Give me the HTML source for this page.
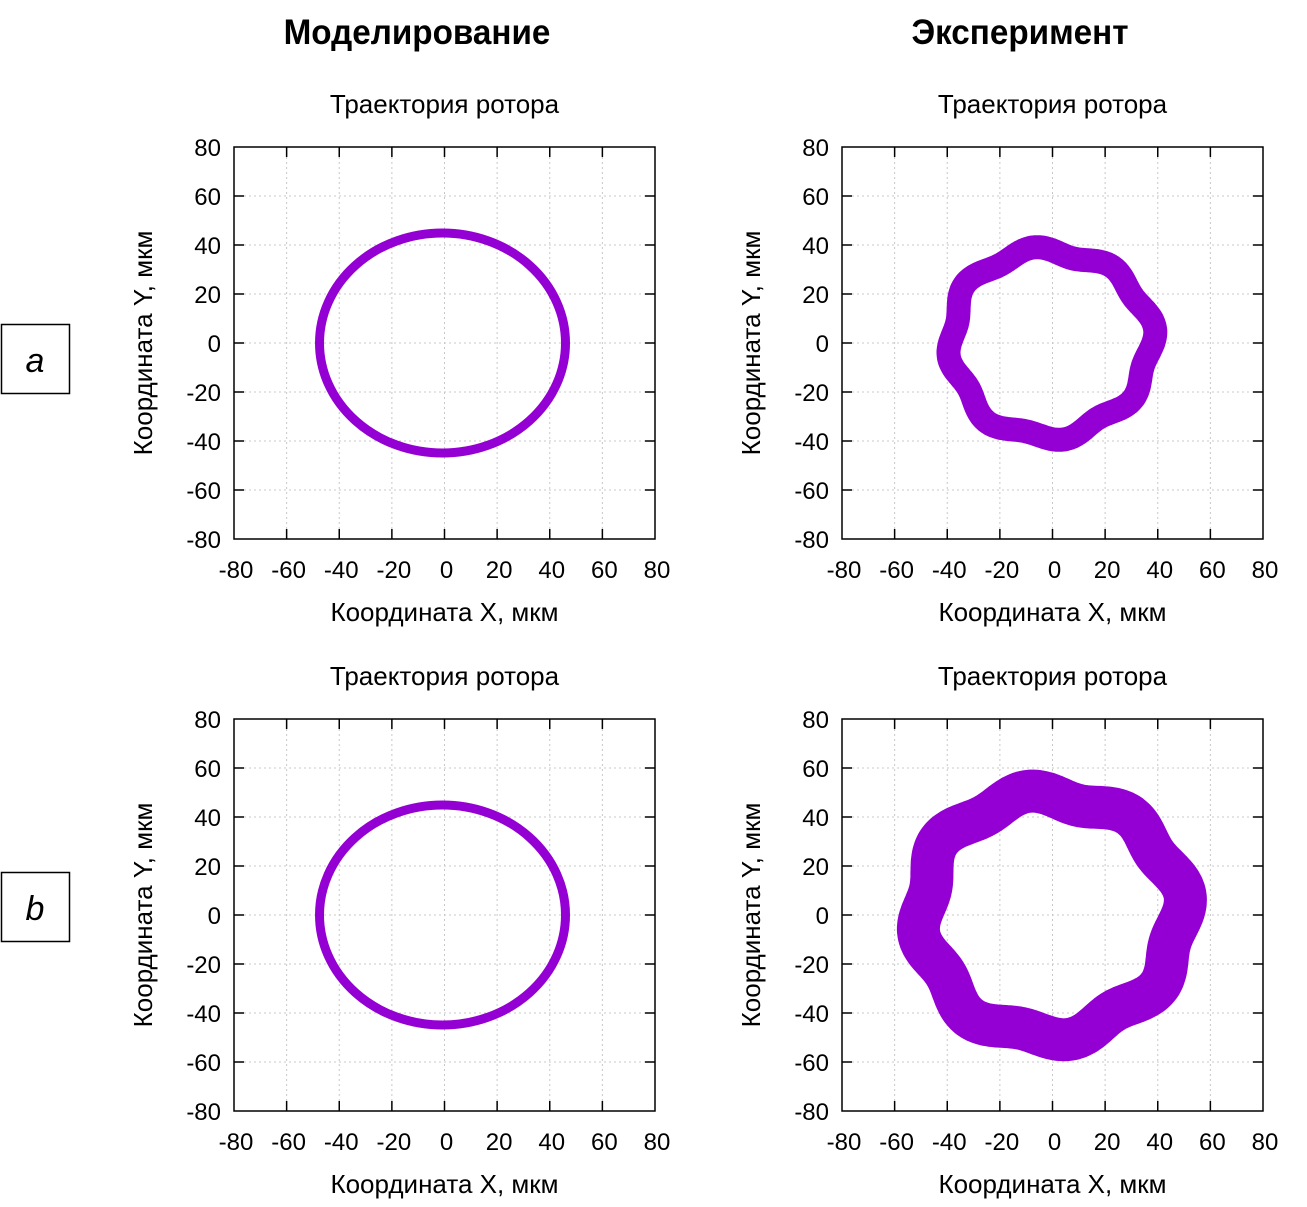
<!DOCTYPE html>
<html><head><meta charset="utf-8">
<style>
body{margin:0;background:#fff;width:1307px;height:1207px;overflow:hidden}
svg{display:block}
text{font-family:"Liberation Sans","DejaVu Sans",sans-serif;fill:#000}
</style></head><body>
<svg id="s" width="1307" height="1207" xmlns="http://www.w3.org/2000/svg">
<text x="417" y="44" text-anchor="middle" font-size="35" font-weight="bold" transform="translate(417,0) scale(0.95,1) translate(-417,0)">Моделирование</text>
<text x="1020" y="44" text-anchor="middle" font-size="35" font-weight="bold" transform="translate(1020,0) scale(0.95,1) translate(-1020,0)">Эксперимент</text>
<rect x="1.5" y="324.5" width="68" height="69" fill="none" stroke="#000" stroke-width="1.5"/>
<text x="35" y="372" text-anchor="middle" font-size="34" font-style="italic">a</text>
<rect x="1.5" y="872.5" width="68" height="69" fill="none" stroke="#000" stroke-width="1.5"/>
<text x="35" y="920" text-anchor="middle" font-size="34" font-style="italic">b</text>
</svg>
<script>
var s=document.getElementById('s'),NS='http://www.w3.org/2000/svg';
function el(t,a,txt){var e=document.createElementNS(NS,t);for(var k in a)e.setAttribute(k,a[k]);if(txt!=null)e.textContent=txt;s.appendChild(e);return e;}
function panel(X0,Y0,kind){
 var W=421,H=392;
 function px(x){return X0+(x+80)*W/160;}
 function py(y){return Y0+(80-y)*H/160;}
 el('text',{x:X0+W/2,y:Y0-34,'text-anchor':'middle','font-size':26},'Траектория ротора');
 for(var v=-80;v<=80;v+=20){
  var x=px(v),y=py(v);
  if(v>-80&&v<80){
   el('line',{x1:x,y1:Y0,x2:x,y2:Y0+H,stroke:'#c8c8c8','stroke-width':1,'stroke-dasharray':'2,3'});
   el('line',{x1:X0,y1:y,x2:X0+W,y2:y,stroke:'#c8c8c8','stroke-width':1,'stroke-dasharray':'2,3'});
   el('line',{x1:x,y1:Y0,x2:x,y2:Y0+10,stroke:'#000','stroke-width':1.5});
   el('line',{x1:x,y1:Y0+H,x2:x,y2:Y0+H-10,stroke:'#000','stroke-width':1.5});
   el('line',{x1:X0,y1:y,x2:X0+10,y2:y,stroke:'#000','stroke-width':1.5});
   el('line',{x1:X0+W,y1:y,x2:X0+W-10,y2:y,stroke:'#000','stroke-width':1.5});
  }
  el('text',{x:x+2,y:Y0+H+39,'text-anchor':'middle','font-size':24},v);
  el('text',{x:X0-13,y:y+9,'text-anchor':'end','font-size':24},v);
 }
 el('text',{x:X0+W/2,y:Y0+H+82,'text-anchor':'middle','font-size':26},'Координата X, мкм');
 var cx=X0-82,cy=Y0+H/2;
 el('text',{x:cx,y:cy,'text-anchor':'middle','font-size':26,transform:'rotate(-90 '+cx+' '+cy+')'},'Координата Y, мкм');
 var col='#9400d3';
 if(kind==0){
  el('ellipse',{cx:px(0)-2,cy:py(0),rx:123,ry:110,fill:'none',stroke:col,'stroke-width':9});
 } else {
  var r0=kind==1?38:49,a=kind==1?1.6:2.2,w=kind==1?24:43,k=8,ph=kind==1?0.4:0.3;
  var d='';
  for(var i=0;i<=360;i++){
   var t=i*Math.PI/180;
   var r=r0+a*Math.sin(k*t+ph)+0.8*Math.sin(3*t+1);
   var xx=px(r*Math.cos(t)-1),yy=py(r*Math.sin(t));
   d+=(i?'L':'M')+xx.toFixed(1)+','+yy.toFixed(1);
  }
  el('path',{d:d+'Z',fill:'none',stroke:col,'stroke-width':w,'stroke-linejoin':'round'});
 }
 el('rect',{x:X0,y:Y0,width:W,height:H,fill:'none',stroke:'#000','stroke-width':1.5});
}
panel(234,147,0);panel(842,147,1);panel(234,719,0);panel(842,719,2);
</script>
</body></html>
